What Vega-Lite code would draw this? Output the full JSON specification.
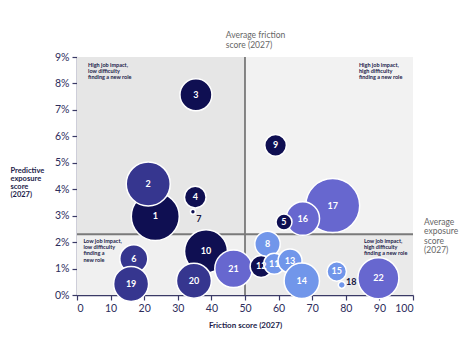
{
  "$schema": "https://vega.github.io/schema/vega-lite/v6.json",
  "width": 336,
  "height": 238,
  "autosize": "none",
  "padding": {"left": 77, "top": 57, "right": 63, "bottom": 62},
  "background": "white",
  "config": {
    "view": {"stroke": null},
    "font": "Lato",
    "axis": {"grid": false, "labelOverlap": false, "domainColor": "#3a3a66", "domainWidth": 1.5, "tickColor": "#3a3a66", "tickSize": 5, "tickWidth": 1.2, "labelFont": "Lato", "labelFontSize": 10.5, "labelColor": "#2d2d5c", "labelPadding": 3, "titleFont": "Lato", "titleFontWeight": "bold", "titleColor": "#1c1c4a"},
    "axisX": {"tickCount": 11, "titleFontSize": 8, "titlePadding": 8},
    "axisY": {"tickCount": 10, "titleFontSize": 7.5, "titleAngle": 0, "titleAlign": "left", "titleBaseline": "alphabetic", "titleX": -67, "titleY": 115, "titleLineHeight": 8}
  },
  "resolve": {"scale": {"color": "independent", "fill": "independent"}},
  "datasets": {
    "bubbles": [
      {"id": "17", "friction": 76.1, "exposure": 3.38, "size": 729, "group": "purple"},
      {"id": "1", "friction": 23.3, "exposure": 2.97, "size": 576, "group": "dark"},
      {"id": "2", "friction": 21.2, "exposure": 4.2, "size": 484, "group": "medium"},
      {"id": "10", "friction": 38.4, "exposure": 1.65, "size": 462, "group": "dark"},
      {"id": "22", "friction": 89.7, "exposure": 0.63, "size": 420, "group": "purple"},
      {"id": "21", "friction": 46.6, "exposure": 0.99, "size": 353, "group": "purple"},
      {"id": "16", "friction": 67.2, "exposure": 2.89, "size": 280, "group": "purple"},
      {"id": "20", "friction": 34.8, "exposure": 0.54, "size": 306, "group": "medium"},
      {"id": "3", "friction": 35.4, "exposure": 7.57, "size": 256, "group": "dark"},
      {"id": "6", "friction": 16.9, "exposure": 1.37, "size": 196, "group": "medium"},
      {"id": "19", "friction": 16.1, "exposure": 0.42, "size": 306, "group": "medium"},
      {"id": "8", "friction": 56.7, "exposure": 1.93, "size": 161, "group": "light"},
      {"id": "12", "friction": 54.8, "exposure": 1.08, "size": 121, "group": "dark"},
      {"id": "11", "friction": 58.7, "exposure": 1.18, "size": 110, "group": "light"},
      {"id": "13", "friction": 63.4, "exposure": 1.29, "size": 144, "group": "light"},
      {"id": "14", "friction": 66.9, "exposure": 0.54, "size": 313, "group": "light"},
      {"id": "9", "friction": 59.1, "exposure": 5.66, "size": 117, "group": "dark"},
      {"id": "7", "friction": 34.5, "exposure": 3.15, "size": 6, "group": "dark"},
      {"id": "4", "friction": 35.2, "exposure": 3.7, "size": 117, "group": "dark"},
      {"id": "15", "friction": 77.3, "exposure": 0.89, "size": 94, "group": "light"},
      {"id": "5", "friction": 61.6, "exposure": 2.76, "size": 64, "group": "dark"},
      {"id": "18", "friction": 78.8, "exposure": 0.38, "size": 12, "group": "light"}
    ]
  },
  "layer": [
    {
      "data": {"values": [
        {"x0": 0, "x1": 50, "y0": 2.3, "y1": 9, "shade": "tl"},
        {"x0": 50, "x1": 100, "y0": 2.3, "y1": 9, "shade": "tr"},
        {"x0": 0, "x1": 50, "y0": 0, "y1": 2.3, "shade": "bl"},
        {"x0": 50, "x1": 100, "y0": 0, "y1": 2.3, "shade": "br"}
      ]},
      "mark": {"type": "rect"},
      "encoding": {
        "x": {"field": "x0", "type": "quantitative", "scale": {"domain": [0, 100], "nice": false},
          "axis": {"values": [0,10,20,30,40,50,60,70,80,90,100], "title": "Friction score (2027)"}},
        "x2": {"field": "x1"},
        "y": {"field": "y0", "type": "quantitative", "scale": {"domain": [0, 9], "nice": false},
          "axis": {"values": [0,1,2,3,4,5,6,7,8,9], "labelExpr": "datum.value + '%'", "title": ["Predictive", "exposure", "score", "(2027)"]}},
        "y2": {"field": "y1"},
        "fill": {"field": "shade", "type": "nominal", "scale": {"domain": ["tl", "tr", "bl", "br"], "range": ["#e6e6e6", "#f2f2f2", "#f0f0f0", "#eaeaea"]}, "legend": null}
      }
    },
    {
      "data": {"values": [{"x": 50, "y": 0, "y2": 9}]},
      "mark": {"type": "rule", "color": "#4d4d4d", "strokeWidth": 1.3},
      "encoding": {
        "x": {"field": "x", "type": "quantitative"},
        "y": {"field": "y", "type": "quantitative"},
        "y2": {"field": "y2"}
      }
    },
    {
      "data": {"values": [{"x": 0, "x2": 100, "y": 2.3}]},
      "mark": {"type": "rule", "color": "#7a7a7a", "strokeWidth": 2},
      "encoding": {
        "x": {"field": "x", "type": "quantitative"},
        "x2": {"field": "x2"},
        "y": {"field": "y", "type": "quantitative"}
      }
    },
    {
      "data": {"name": "bubbles"},
      "mark": {"type": "circle", "opacity": 1, "stroke": "white", "strokeWidth": 1.5},
      "encoding": {
        "x": {"field": "friction", "type": "quantitative"},
        "y": {"field": "exposure", "type": "quantitative"},
        "size": {"field": "size", "type": "quantitative", "scale": {"type": "linear", "domain": [0, 729], "range": [0, 2916], "zero": true}, "legend": null},
        "color": {"field": "group", "type": "nominal", "scale": {"domain": ["dark", "medium", "purple", "light"], "range": ["#0f0f52", "#36368f", "#6767cf", "#7196ea"]}, "legend": null}
      }
    },
    {
      "data": {"name": "bubbles"},
      "transform": [{"filter": "datum.id != '7' && datum.id != '18'"}],
      "mark": {"type": "text", "color": "white", "fontSize": 9, "fontWeight": "bold", "font": "Lato", "align": "center", "baseline": "middle"},
      "encoding": {
        "x": {"field": "friction", "type": "quantitative"},
        "y": {"field": "exposure", "type": "quantitative"},
        "text": {"field": "id"}
      }
    },
    {
      "data": {"values": [
        {"id": "7", "lx": 36.3, "ly": 2.87},
        {"id": "18", "lx": 81.6, "ly": 0.5}
      ]},
      "mark": {"type": "text", "color": "#14143f", "fontSize": 9, "fontWeight": "bold", "font": "Lato", "align": "center", "baseline": "middle"},
      "encoding": {
        "x": {"field": "lx", "type": "quantitative"},
        "y": {"field": "ly", "type": "quantitative"},
        "text": {"field": "id"}
      }
    },
    {
      "data": {"values": [
        {"tx": 3.3, "ty": 8.78, "label": ["High job impact,", "low difficulty", "finding a new role"]},
        {"tx": 83.9, "ty": 8.78, "label": ["High job impact,", "high difficulty", "finding a new role"]},
        {"tx": 1.9, "ty": 2.12, "label": ["Low job impact,", "low difficulty", "finding a", "new role"]},
        {"tx": 85.4, "ty": 2.12, "label": ["Low job impact,", "high difficulty", "finding a new role"]}
      ]},
      "mark": {"type": "text", "color": "#1c1c4a", "fontSize": 5.5, "fontWeight": "bold", "font": "Lato", "align": "left", "baseline": "top", "lineHeight": 6.2},
      "encoding": {
        "x": {"field": "tx", "type": "quantitative"},
        "y": {"field": "ty", "type": "quantitative"},
        "text": {"field": "label"}
      }
    },
    {
      "data": {"values": [
        {"tx": 44.3, "ty": 9.98, "label": ["Average friction", "score (2027)"]},
        {"tx": 103.3, "ty": 2.93, "label": ["Average", "exposure", "score", "(2027)"]}
      ]},
      "mark": {"type": "text", "color": "#666666", "fontSize": 8.5, "font": "Lato", "align": "left", "baseline": "top", "lineHeight": 9.5},
      "encoding": {
        "x": {"field": "tx", "type": "quantitative"},
        "y": {"field": "ty", "type": "quantitative"},
        "text": {"field": "label"}
      }
    }
  ]
}
